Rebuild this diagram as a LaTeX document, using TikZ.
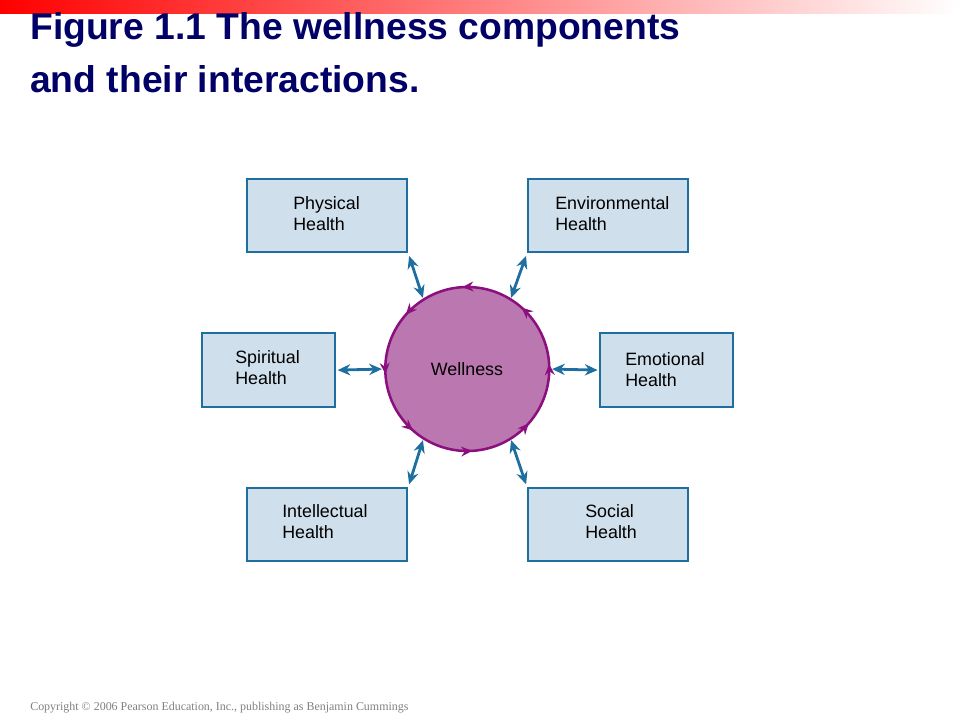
\documentclass[tikz,border=0pt]{standalone}
\usepackage{fontspec}
\setmainfont{Liberation Sans}
\newfontfamily\copyfont{Liberation Serif}
\usetikzlibrary{arrows.meta, decorations.markings}

\definecolor{navy}{HTML}{000066}
\definecolor{boxfill}{HTML}{CFE0EC}
\definecolor{boxline}{HTML}{1F6EA0}
\definecolor{wellfill}{HTML}{BB77AF}
\definecolor{wellline}{HTML}{8B0F7E}

\tikzset{
    healthbox/.style={draw=boxline, line width=1.6pt, fill=boxfill, anchor=north west,
        inner sep=0pt, minimum width=160*0.25mm, minimum height=73*0.25mm},
    link/.style={draw=boxline, line width=2pt, {Stealth[length=9pt,width=8pt]}-{Stealth[length=9pt,width=8pt]}},
    cycletip/.style={decoration={markings,
        mark=between positions 0.01 and 0.99 step 0.125 with {\arrow{Stealth[length=8pt,width=7pt]}}},
        postaction={decorate}}
}

\begin{document}
\begin{tikzpicture}[x=0.25mm, y=-0.25mm]
    \useasboundingbox (0,0) rectangle (960,720);

    % header bar
    \shade[left color=red, right color=white] (0,0) rectangle (960,13);
    \node[anchor=base west, text=navy, font=\bfseries\fontsize{26.5}{37}\selectfont,
          align=left, inner sep=0pt] (title) at (30,92)
          {Figure 1.1 The wellness components\\and their interactions.};

    % boxes
    \node[healthbox] (phys) at (246,178) {};
    \node[healthbox] (env) at (527,178) {};
    \node[healthbox, minimum width=133*0.25mm, minimum height=74*0.25mm] (spi) at (201,332) {};
    \node[healthbox, minimum width=133*0.25mm, minimum height=74*0.25mm] (emo) at (599,332) {};
    \node[healthbox] (int) at (246,487) {};
    \node[healthbox] (soc) at (527,487) {};

    \begin{scope}[every node/.style={anchor=west, align=left, inner sep=0pt,
                  font=\fontsize{12.7}{15}\selectfont}]
        \node (physt) at (293,214) {Physical\\Health};
        \node (envt) at (555,214) {Environmental\\Health};
        \node (spit) at (235,368) {Spiritual\\Health};
        \node (emot) at (625,370) {Emotional\\Health};
        \node (intt) at (282,522) {Intellectual\\Health};
        \node (soct) at (585,522) {Social\\Health};
    \end{scope}

    % wellness circle
    \node[circle, minimum size=164*0.25mm, inner sep=0pt, fill=wellfill] (wel) at (467,369)
        {\fontsize{12.7}{14}\selectfont Wellness};
    \draw[wellline, line width=1.8pt, cycletip] (wel.0) arc[start angle=0, end angle=-360, radius=82];

    % links
    \draw[link, shorten <=2pt, shorten >=1pt] (phys.south east) -- (wel.122);
    \draw[link, shorten <=2pt, shorten >=1pt] (env.south west) -- (wel.58);
    \draw[link, shorten <=1pt, shorten >=2pt] (spi.east) -- (wel.180);
    \draw[link, shorten <=1pt, shorten >=2pt] (emo.west) -- (wel.0);
    \draw[link, shorten <=2pt, shorten >=1pt] (int.north east) -- (wel.238);
    \draw[link, shorten <=2pt, shorten >=1pt] (soc.north west) -- (wel.302);

    \node[anchor=base west, text=gray, inner sep=0pt, font=\copyfont\fontsize{8.5}{9}\selectfont]
        (copy) at (30,710) {Copyright © 2006 Pearson Education, Inc., publishing as Benjamin Cummings};
\end{tikzpicture}
\end{document}
